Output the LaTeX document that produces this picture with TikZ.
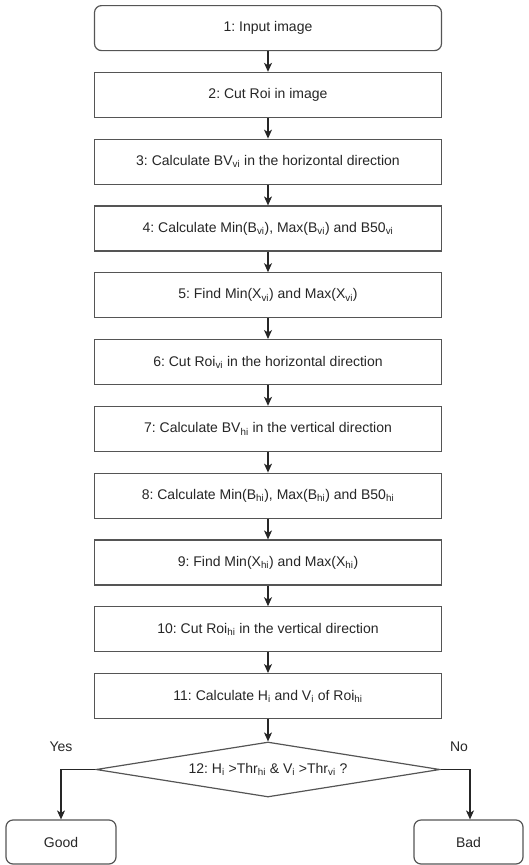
\documentclass[tikz,border=0pt]{standalone}
\usepackage{fontspec}
\setmainfont{Liberation Sans}
\usetikzlibrary{arrows.meta,shapes.geometric}
\definecolor{edgegray}{HTML}{555555}
\tikzset{
  x=1pt, y=-1pt,
  every node/.style={font=\fontsize{14}{16.5}\selectfont, text=black!85},
  stepbox/.style={draw=edgegray, line width=1.2pt, fill=white, minimum width=347pt,
    minimum height=45pt, inner sep=0pt, anchor=north},
  endbox/.style={draw=edgegray, line width=1.2pt, fill=white, rounded corners=7pt,
    minimum height=44pt, inner sep=0pt},
  decision/.style={draw=edgegray, line width=1.2pt, diamond, aspect=6.3,
    minimum width=344pt, minimum height=55pt, inner sep=0pt},
  flow/.style={draw=black!85, line width=1.2pt, -{Stealth[length=9pt,width=8pt,inset=2.5pt]}},
  lbl/.style={inner sep=0pt}
}
\newcommand{\sbs}[1]{\textsubscript{#1}}
\begin{document}
\frenchspacing
\begin{tikzpicture}
\useasboundingbox (0,0) rectangle (528,865);

\node[stepbox, rounded corners=7pt] (s1) at (268,5) {1: Input image};
\node[stepbox] (s2)  at (268,71.8)  {2: Cut Roi in image};
\node[stepbox] (s3)  at (268,138.6) {3: Calculate BV\sbs{vi} in the horizontal direction};
\node[stepbox] (s4)  at (268,205.4) {4: Calculate Min(B\sbs{vi}), Max(B\sbs{vi}) and B50\sbs{vi}};
\node[stepbox] (s5)  at (268,272.2) {5: Find Min(X\sbs{vi}) and Max(X\sbs{vi})};
\node[stepbox] (s6)  at (268,339)   {6: Cut Roi\sbs{vi} in the horizontal direction};
\node[stepbox] (s7)  at (268,405.8) {7: Calculate BV\sbs{hi} in the vertical direction};
\node[stepbox] (s8)  at (268,472.6) {8: Calculate Min(B\sbs{hi}), Max(B\sbs{hi}) and B50\sbs{hi}};
\node[stepbox] (s9)  at (268,539.4) {9: Find Min(X\sbs{hi}) and Max(X\sbs{hi})};
\node[stepbox] (s10) at (268,606.2) {10: Cut Roi\sbs{hi} in the vertical direction};
\node[stepbox] (s11) at (268,673)   {11: Calculate H\sbs{i} and V\sbs{i} of Roi\sbs{hi}};

\node[decision] (d12) at (268,769.5) {12: H\sbs{i} >Thr\sbs{hi} \& V\sbs{i} >Thr\sbs{vi} ?};

\node[endbox, minimum width=110pt] (good) at (61,842) {Good};
\node[endbox, minimum width=109pt] (bad)  at (468.5,842) {Bad};

\node[lbl] (yes) at (61,747) {Yes};
\node[lbl] (no)  at (459,747) {No};

\foreach \a/\b in {s1/s2,s2/s3,s3/s4,s4/s5,s5/s6,s6/s7,s7/s8,s8/s9,s9/s10,s10/s11,s11/d12}
  \draw[flow] (\a.south) -- (\b.north);

\draw[flow] (d12.west) -| (good.north);
\draw[flow] (d12.east) -| ([xshift=1.5pt]bad.north);
\end{tikzpicture}
\end{document}
